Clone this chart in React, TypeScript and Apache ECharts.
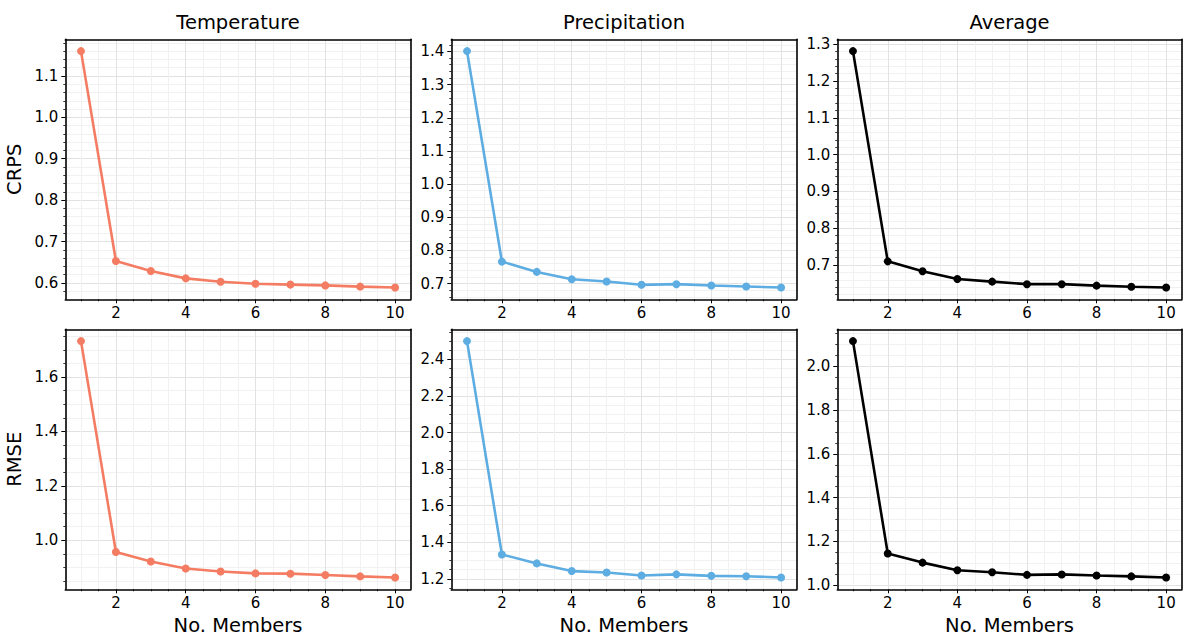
import React, { useEffect, useRef } from "react";
import * as echarts from "echarts";

const members = [1, 2, 3, 4, 5, 6, 7, 8, 9, 10];
const tempCRPS = [1.16, 0.653, 0.629, 0.611, 0.603, 0.598, 0.596, 0.594, 0.591, 0.589];
const precipCRPS = [1.401, 0.766, 0.735, 0.713, 0.706, 0.696, 0.698, 0.694, 0.691, 0.688];
const avgCRPS = [1.281, 0.71, 0.683, 0.662, 0.655, 0.648, 0.648, 0.644, 0.641, 0.639];
const tempRMSE = [1.732, 0.957, 0.922, 0.896, 0.885, 0.878, 0.877, 0.872, 0.867, 0.863];
const precipRMSE = [2.5, 1.333, 1.284, 1.242, 1.234, 1.218, 1.224, 1.216, 1.214, 1.207];
const avgRMSE = [2.116, 1.145, 1.103, 1.068, 1.059, 1.047, 1.049, 1.044, 1.04, 1.035];

const xTicks = [2, 4, 6, 8, 10];
const tempCRPSTicks = [0.6, 0.7, 0.8, 0.9, 1.0, 1.1];
const precipCRPSTicks = [0.7, 0.8, 0.9, 1.0, 1.1, 1.2, 1.3, 1.4];
const avgCRPSTicks = [0.7, 0.8, 0.9, 1.0, 1.1, 1.2, 1.3];
const tempRMSETicks = [1.0, 1.2, 1.4, 1.6];
const precipRMSETicks = [1.2, 1.4, 1.6, 1.8, 2.0, 2.2, 2.4];
const avgRMSETicks = [1.0, 1.2, 1.4, 1.6, 1.8, 2.0];

const titles = ["Temperature", "Precipitation", "Average"];
const rowNames = ["CRPS", "RMSE"];
const colors = ["#f47c62", "#5dade2", "#000000"];

const FONT = "DejaVu Sans";
const LEFTS = [65.3, 451.3, 837.3];
const TOPS = [39.3, 329.3];
const W = 345.5;
const H = 260;

function multiples(lo: number, hi: number, step: number): number[] {
  const out: number[] = [];
  const s = Math.ceil(lo / step - 1e-9);
  const e = Math.floor(hi / step + 1e-9);
  for (let k = s; k <= e; k++) out.push(Math.round(k * step * 1e6) / 1e6);
  return out;
}

function padExtent(vals: number[]): [number, number] {
  const mn = Math.min(...vals);
  const mx = Math.max(...vals);
  const d = (mx - mn) * 0.05;
  return [mn - d, mx + d];
}

const panels = [
  { data: tempCRPS, ticks: tempCRPSTicks, color: colors[0], row: 0, col: 0 },
  { data: precipCRPS, ticks: precipCRPSTicks, color: colors[1], row: 0, col: 1 },
  { data: avgCRPS, ticks: avgCRPSTicks, color: colors[2], row: 0, col: 2 },
  { data: tempRMSE, ticks: tempRMSETicks, color: colors[0], row: 1, col: 0 },
  { data: precipRMSE, ticks: precipRMSETicks, color: colors[1], row: 1, col: 1 },
  { data: avgRMSE, ticks: avgRMSETicks, color: colors[2], row: 1, col: 2 },
];

function buildOption() {
  const grid: any[] = [];
  const xAxis: any[] = [];
  const yAxis: any[] = [];
  const series: any[] = [];
  const xMin = 0.55;
  const xMax = 10.45;
  const xMinor = multiples(xMin, xMax, 0.5).filter((v) => !xTicks.includes(v));

  panels.forEach((p, i) => {
    grid.push({
      left: LEFTS[p.col],
      top: TOPS[p.row],
      width: p.col === 2 ? W - 1 : W,
      height: H,
      containLabel: false,
    });
    const [yMin, yMax] = padExtent(p.data);
    const majorStep = Math.round((p.ticks[1] - p.ticks[0]) * 100) / 100;
    const minorStep = Math.abs(majorStep - 0.1) < 1e-6 ? 0.02 : 0.05;
    const yMinor = multiples(yMin, yMax, minorStep).filter(
      (v) => !p.ticks.some((t) => Math.abs(t - v) < 1e-6)
    );

    // minor x axis
    xAxis.push({
      type: "value",
      gridIndex: i,
      position: "bottom",
      min: xMin,
      max: xMax,
      axisLine: { show: false },
      axisLabel: { show: false },
      axisTick: { show: true, customValues: xMinor, length: 2, lineStyle: { color: "#000", width: 0.8 } },
      splitLine: { show: true, lineStyle: { color: "#f1f1f1", width: 1 } },
    });
    // main x axis
    xAxis.push({
      type: "value",
      gridIndex: i,
      position: "bottom",
      min: xMin,
      max: xMax,
      axisLine: { show: true, onZero: false, lineStyle: { color: "#000", width: 1.6 } },
      axisTick: { show: true, customValues: xTicks, length: 4, lineStyle: { color: "#000", width: 1 } },
      axisLabel: {
        show: true,
        customValues: xTicks,
        color: "#000",
        fontFamily: FONT,
        fontSize: 15,
        margin: 6,
      },
      splitLine: { show: true, lineStyle: { color: "#e2e2e2", width: 1 } },
      name: p.row === 1 ? "No. Members" : "",
      nameLocation: "middle",
      nameGap: 26,
      nameTextStyle: { color: "#000", fontFamily: FONT, fontSize: 19.5 },
    });
    // top frame axis (title)
    xAxis.push({
      type: "value",
      gridIndex: i,
      position: "top",
      min: xMin,
      max: xMax,
      axisLine: { show: true, onZero: false, lineStyle: { color: "#000", width: 1.6 } },
      axisTick: { show: false },
      axisLabel: { show: false },
      splitLine: { show: false },
      name: p.row === 0 ? titles[p.col] : "",
      nameLocation: "middle",
      nameGap: 7,
      nameTextStyle: { color: "#000", fontFamily: FONT, fontSize: 19.5 },
    });

    // minor y axis
    yAxis.push({
      type: "value",
      gridIndex: i,
      position: "left",
      min: yMin,
      max: yMax,
      axisLine: { show: false },
      axisLabel: { show: false },
      axisTick: { show: true, customValues: yMinor, length: 2, lineStyle: { color: "#000", width: 0.8 } },
      splitLine: { show: true, lineStyle: { color: "#f1f1f1", width: 1 } },
    });
    // main y axis
    yAxis.push({
      type: "value",
      gridIndex: i,
      position: "left",
      min: yMin,
      max: yMax,
      axisLine: { show: true, onZero: false, lineStyle: { color: "#000", width: 1.6 } },
      axisTick: { show: true, customValues: p.ticks, length: 4, lineStyle: { color: "#000", width: 1 } },
      axisLabel: {
        show: true,
        customValues: p.ticks,
        color: "#000",
        fontFamily: FONT,
        fontSize: 15,
        margin: 7,
        formatter: (v: number) => v.toFixed(1),
      },
      splitLine: { show: true, lineStyle: { color: "#e2e2e2", width: 1 } },
      name: p.col === 0 ? rowNames[p.row] : "",
      nameLocation: "middle",
      nameGap: 41,
      nameRotate: 90,
      nameTextStyle: { color: "#000", fontFamily: FONT, fontSize: 19.5 },
    });
    // right frame axis
    yAxis.push({
      type: "value",
      gridIndex: i,
      position: "right",
      min: yMin,
      max: yMax,
      axisLine: { show: true, onZero: false, lineStyle: { color: "#000", width: 1.6 } },
      axisTick: { show: false },
      axisLabel: { show: false },
      splitLine: { show: false },
    });

    series.push({
      type: "line",
      xAxisIndex: i * 3 + 1,
      yAxisIndex: i * 3 + 1,
      data: members.map((m, k) => [m, p.data[k]]),
      symbol: "circle",
      symbolSize: 8,
      showSymbol: true,
      lineStyle: { color: p.color, width: 2.6 },
      itemStyle: { color: p.color },
      z: 5,
    });
  });

  return {
    animation: false,
    backgroundColor: "#ffffff",
    textStyle: { fontFamily: FONT },
    grid,
    xAxis,
    yAxis,
    series,
  };
}

export default function App() {
  const ref = useRef<HTMLDivElement>(null);
  useEffect(() => {
    if (!ref.current) return;
    const chart = echarts.init(ref.current, null, { renderer: "svg" });
    chart.setOption(buildOption() as any);
    return () => chart.dispose();
  }, []);
  return (
    <div
      ref={ref}
      style={{ position: "absolute", left: 0, top: 0, width: 1183, height: 642, background: "#fff" }}
    />
  );
}
